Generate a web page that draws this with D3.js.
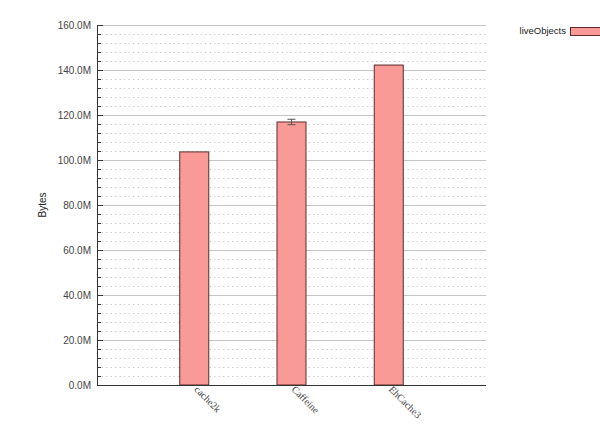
<!DOCTYPE html>
<html>
<head>
<meta charset="utf-8">
<script src="https://cdn.jsdelivr.net/npm/d3@7"></script>
<style>
  body { margin: 0; background: #fff; }
  svg { display: block; }
  .xlab { font-family: "Liberation Serif", "Times New Roman", serif; }
</style>
</head>
<body>
<div id="chart"></div>
<script>
const categories = ["cache2k", "Caffeine", "EhCache3"];
const liveObjects = [103.6e6, 116.9e6, 142.2e6];
const liveObjectsErr = [0, 1.2e6, 0];
const yTicks = [0, 20e6, 40e6, 60e6, 80e6, 100e6, 120e6, 140e6, 160e6];
const seriesName = "liveObjects";

const width = 600,
  height = 430;
const margin = { top: 25, right: 114, bottom: 45, left: 97 },
  innerWidth = width - margin.left - margin.right,
  innerHeight = height - margin.top - margin.bottom;

const fillColor = "#f99a97",
  strokeColor = "#5b2a2a";

const svg = d3
  .select("#chart")
  .append("svg")
  .attr("width", width)
  .attr("height", height);

const g = svg
  .append("g")
  .attr("transform", `translate(${margin.left},${margin.top})`);

const yScale = d3.scaleLinear().domain([0, 160e6]).range([innerHeight, 0]);

// categories sit at 1..3 of a 0..4 axis
const xScale = d3
  .scalePoint()
  .domain(["", ...categories, " "])
  .range([0, innerWidth]);

const barWidth = 29;

// minor dotted grid every 4M
const minor = d3.range(0, 160e6 + 1, 4e6).filter((v) => v % 20e6 !== 0);
g.append("g")
  .selectAll("line")
  .data(minor)
  .join("line")
  .attr("x1", 0)
  .attr("x2", innerWidth)
  .attr("y1", (d) => Math.round(yScale(d)) + 0.5)
  .attr("y2", (d) => Math.round(yScale(d)) + 0.5)
  .attr("stroke", "#d0d0d0")
  .attr("stroke-dasharray", "1.5,3");

// major grid
g.append("g")
  .selectAll("line")
  .data(yTicks.slice(1))
  .join("line")
  .attr("x1", 0)
  .attr("x2", innerWidth)
  .attr("y1", (d) => Math.round(yScale(d)) + 0.5)
  .attr("y2", (d) => Math.round(yScale(d)) + 0.5)
  .attr("stroke", "#c4c4c4")
  .attr("stroke-width", 1);

// minor ticks on axis
g.append("g")
  .selectAll("line")
  .data(minor)
  .join("line")
  .attr("x1", 0)
  .attr("x2", 4)
  .attr("y1", (d) => Math.round(yScale(d)) + 0.5)
  .attr("y2", (d) => Math.round(yScale(d)) + 0.5)
  .attr("stroke", "#333");

// bars
g.append("g")
  .selectAll("rect")
  .data(categories)
  .join("rect")
  .attr("x", (d) => xScale(d) - barWidth / 2)
  .attr("y", (d, i) => yScale(liveObjects[i]))
  .attr("width", barWidth)
  .attr("height", (d, i) => innerHeight - yScale(liveObjects[i]))
  .attr("fill", fillColor)
  .attr("stroke", strokeColor)
  .attr("stroke-width", 1);

// error bars
const err = g
  .append("g")
  .selectAll("g")
  .data(categories.filter((d, i) => liveObjectsErr[i] > 0))
  .join("g")
  .attr("stroke", "#555")
  .attr("stroke-width", 1);
err.each(function (d) {
  const i = categories.indexOf(d);
  const x = xScale(d);
  const y0 = yScale(liveObjects[i] - liveObjectsErr[i]);
  const y1 = yScale(liveObjects[i] + liveObjectsErr[i]);
  const e = d3.select(this);
  e.append("line").attr("x1", x).attr("x2", x).attr("y1", y0).attr("y2", y1);
  e.append("line").attr("x1", x - 4).attr("x2", x + 4).attr("y1", y0).attr("y2", y0);
  e.append("line").attr("x1", x - 4).attr("x2", x + 4).attr("y1", y1).attr("y2", y1);
});

// y axis
const gy = g
  .append("g")
  .call(
    d3
      .axisLeft(yScale)
      .tickValues(yTicks)
      .tickSize(-6)
      .tickPadding(6)
      .tickFormat((d) => (d / 1e6).toFixed(1) + "M")
  );
gy.select(".domain").attr("stroke", "#333");
gy.selectAll(".tick line").attr("stroke", "#333");
gy.selectAll(".tick text")
  .attr("x", -6)
  .attr("font-family", "Arial, Liberation Sans, sans-serif")
  .attr("font-size", 10)
  .attr("fill", "#444");

// x axis, only the real categories get a label
const gx = g
  .append("g")
  .attr("transform", `translate(0,${innerHeight})`)
  .call(d3.axisBottom(xScale).tickValues(categories).tickSize(0));
gx.attr("font-family", null);
gx.select(".domain").attr("stroke", "#333").attr("d", `M0.5,0.5H${innerWidth}`);
gx.selectAll(".tick text")
  .attr("class", "xlab")
  .attr("font-size", 10)
  .attr("fill", "#444")
  .attr("text-anchor", "start")
  .attr("dy", null)
  .attr("y", 0)
  .attr("x", 0)
  .attr("transform", "translate(-1,5) rotate(45)");

// y label
svg
  .append("text")
  .attr("transform", `translate(46,${margin.top + innerHeight / 2}) rotate(-90)`)
  .attr("text-anchor", "middle")
  .attr("font-family", "Arial, Liberation Sans, sans-serif")
  .attr("font-size", 10)
  .attr("fill", "#222")
  .text("Bytes");

// legend
const legend = svg.append("g").attr("transform", "translate(566,31)");
legend
  .append("text")
  .attr("x", 0)
  .attr("y", 0)
  .attr("dy", "0.35em")
  .attr("text-anchor", "end")
  .attr("font-family", "Arial, Liberation Sans, sans-serif")
  .attr("font-size", 9.5)
  .attr("fill", "#222")
  .text(seriesName);
legend
  .append("rect")
  .attr("x", 4.5)
  .attr("y", -3.5)
  .attr("width", 40)
  .attr("height", 8)
  .attr("fill", fillColor)
  .attr("stroke", strokeColor);
</script>
</body>
</html>
